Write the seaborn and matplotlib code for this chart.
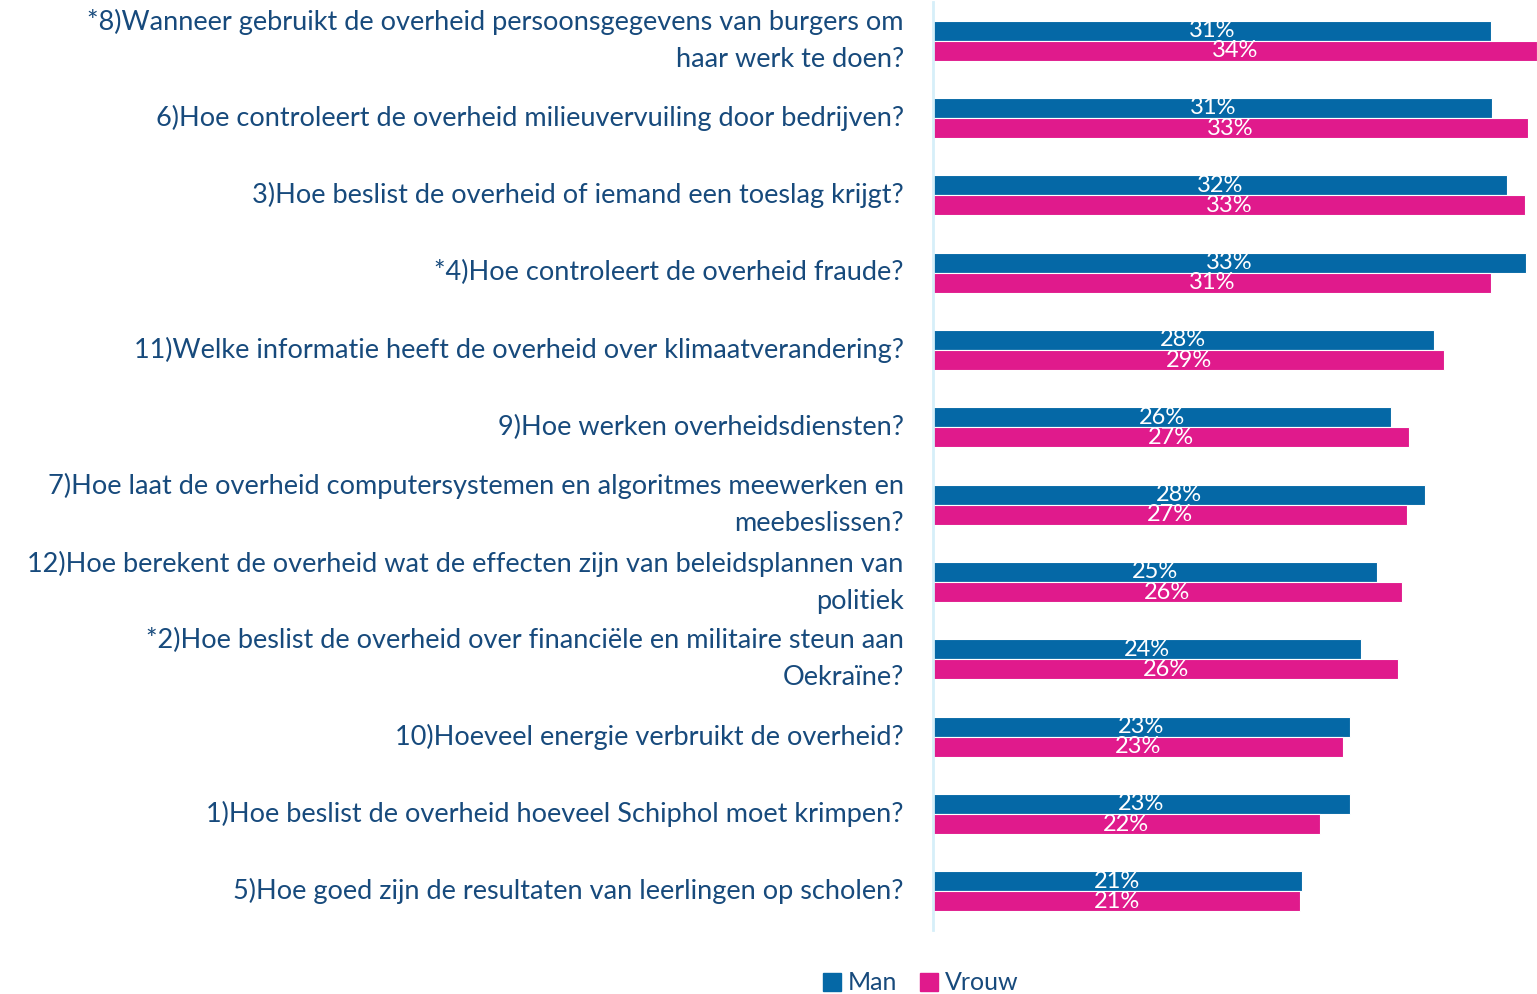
import pandas as pd
import matplotlib.pyplot as plt
import seaborn as sns

# Vragen (van boven naar beneden) en percentages per geslacht
questions = [
    "*8)Wanneer gebruikt de overheid persoonsgegevens van burgers om\nhaar werk te doen?",
    "6)Hoe controleert de overheid milieuvervuiling door bedrijven?",
    "3)Hoe beslist de overheid of iemand een toeslag krijgt?",
    "*4)Hoe controleert de overheid fraude?",
    "11)Welke informatie heeft de overheid over klimaatverandering?",
    "9)Hoe werken overheidsdiensten?",
    "7)Hoe laat de overheid computersystemen en algoritmes meewerken en\nmeebeslissen?",
    "12)Hoe berekent de overheid wat de effecten zijn van beleidsplannen van\npolitiek",
    "*2)Hoe beslist de overheid over financiële en militaire steun aan\nOekraïne?",
    "10)Hoeveel energie verbruikt de overheid?",
    "1)Hoe beslist de overheid hoeveel Schiphol moet krimpen?",
    "5)Hoe goed zijn de resultaten van leerlingen op scholen?",
]
man = [31.3, 31.4, 32.2, 33.3, 28.1, 25.7, 27.6, 24.9, 24.0, 23.4, 23.4, 20.7]
vrouw = [33.9, 33.4, 33.2, 31.3, 28.7, 26.7, 26.6, 26.3, 26.1, 23.0, 21.7, 20.6]
groups = ["Man", "Vrouw"]

df = pd.DataFrame({
    "Vraag": questions * 2,
    "Geslacht": ["Man"] * len(questions) + ["Vrouw"] * len(questions),
    "Pct": man + vrouw,
})

sns.set_style("white")
plt.rcParams['font.family'] = ['Lato', 'DejaVu Sans']
text_col = "#174a7c"
palette = {"Man": "#0568a6", "Vrouw": "#e01a8c"}

fig = plt.figure(figsize=(15.37, 9.94), dpi=100)
ax = fig.add_axes([933 / 1537, 1 - 930 / 994, 1 - 933 / 1537, 928 / 994])
sns.barplot(data=df, y="Vraag", x="Pct", hue="Geslacht", order=questions,
            hue_order=groups, palette=palette, width=0.52, orient="h",
            edgecolor="white", linewidth=0.8, saturation=1, ax=ax, legend=False)

# percentages midden in de balken
for cont in ax.containers:
    labels = [f"{b.get_width():.0f}%" for b in cont]
    ax.bar_label(cont, labels=labels, label_type="center", color="white", fontsize=17)

ax.set_xlim(0, 33.9)
ax.set_ylim(11.5, -0.5)
ax.set_xlabel("")
ax.set_ylabel("")
ax.set_xticks([])
ax.tick_params(axis="y", length=0, pad=21, labelsize=19.5, labelcolor=text_col)
for lab in ax.get_yticklabels():
    lab.set_linespacing(1.6)
    lab.set_va("center")
for s in ["top", "right", "bottom"]:
    ax.spines[s].set_visible(False)
ax.spines["left"].set_color("#d6eff9")
ax.spines["left"].set_linewidth(2)

handles = [plt.Rectangle((0, 0), 1, 1, color=palette[g]) for g in groups]
fig.legend(handles, groups, loc="center", bbox_to_anchor=(921 / 1537, 1 - 983 / 994),
           ncol=2, frameon=False, fontsize=18, labelcolor=text_col,
           handlelength=0.7, handleheight=0.7, handletextpad=0.3, columnspacing=0.9)

fig.savefig("out.png", dpi=100)
